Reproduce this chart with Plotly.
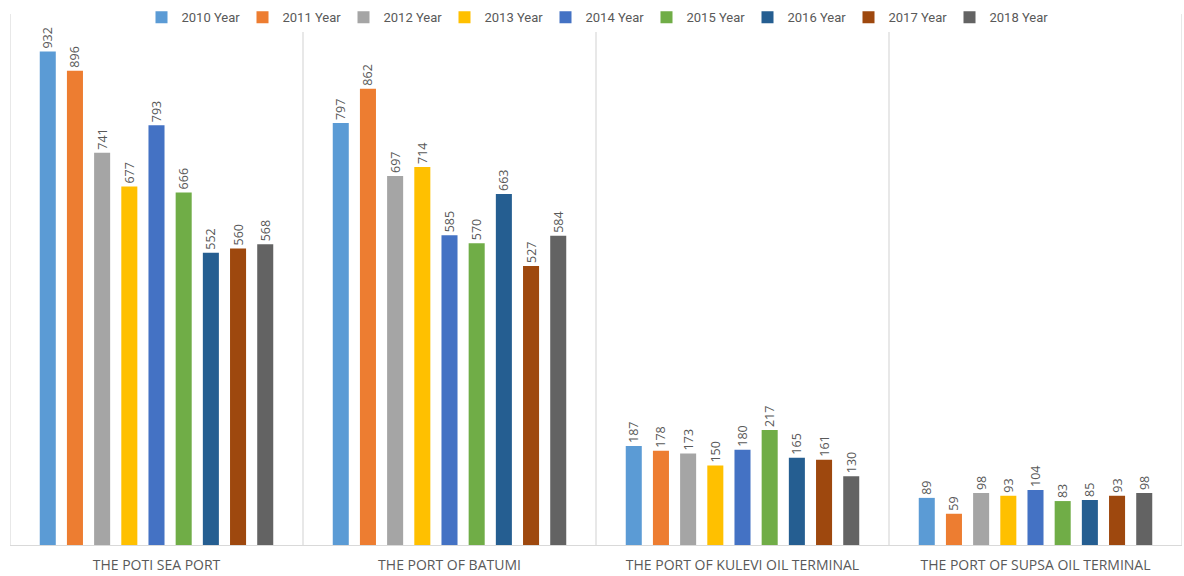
import plotly.graph_objects as go

categories = ["THE POTI SEA PORT", "THE PORT OF BATUMI",
              "THE PORT OF KULEVI OIL TERMINAL", "THE PORT OF SUPSA OIL TERMINAL"]
years = ["2010 Year", "2011 Year", "2012 Year", "2013 Year", "2014 Year",
         "2015 Year", "2016 Year", "2017 Year", "2018 Year"]
v2010 = [932, 797, 187, 89]
v2011 = [896, 862, 178, 59]
v2012 = [741, 697, 173, 98]
v2013 = [677, 714, 150, 93]
v2014 = [793, 585, 180, 104]
v2015 = [666, 570, 217, 83]
v2016 = [552, 663, 165, 85]
v2017 = [560, 527, 161, 93]
v2018 = [568, 584, 130, 98]
series = [v2010, v2011, v2012, v2013, v2014, v2015, v2016, v2017, v2018]
colors = ["#5B9BD5", "#ED7D31", "#A5A5A5", "#FFC000", "#4472C4",
          "#70AD47", "#255E91", "#9E480E", "#636363"]

fig = go.Figure()
for name, vals, col in zip(years, series, colors):
    fig.add_trace(go.Bar(
        x=categories, y=vals, name=name, marker_color=col,
        marker_line_width=0,
        text=[str(v) for v in vals], textposition="outside", textangle=-90,
        textfont=dict(size=12.5, color="#595959", family="Open Sans"),
        constraintext="none", cliponaxis=False,
    ))

shapes = []
for xb in [-0.5, 0.5, 1.5, 2.5, 3.5]:
    shapes.append(dict(type="line", xref="x", yref="paper", x0=xb, x1=xb, y0=0, y1=1,
                       line=dict(color="#D9D9D9", width=1.2), layer="below"))

fig.update_layout(
    width=1184, height=576,
    margin=dict(l=10, r=2, t=14, b=28),
    paper_bgcolor="white", plot_bgcolor="white",
    barmode="group", bargap=0.165, bargroupgap=0.41,
    shapes=shapes,
    showlegend=True,
    legend=dict(orientation="h", x=0.5, xanchor="center", y=0.994, yanchor="middle",
                bgcolor="white", font=dict(size=13, color="#595959", family="Roboto"),
                itemwidth=30, entrywidth=56, traceorder="normal"),
    xaxis=dict(showgrid=False, zeroline=False, showline=True, linecolor="#D9D9D9", linewidth=1.2,
               tickfont=dict(size=14, color="#595959", family="Open Sans"),
               ticks="", ticklabelstandoff=7, range=[-0.5, 3.5]),
    yaxis=dict(range=[0, 1003], visible=False),
)

fig.write_html("out.html")
